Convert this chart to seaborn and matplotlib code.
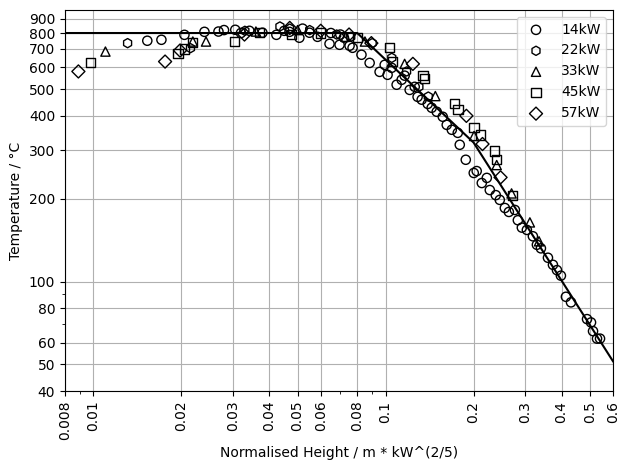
import numpy as np
import pandas as pd
import matplotlib
matplotlib.use("Agg")
import matplotlib.pyplot as plt
import seaborn as sns
from matplotlib.ticker import FixedLocator, FixedFormatter, NullFormatter

# ---------------- data ----------------
x14 = [0.0153, 0.0171, 0.0205, 0.0240, 0.0268, 0.0280, 0.0306, 0.0320, 0.0342, 0.0379,
       0.0423, 0.0450, 0.0469, 0.0507, 0.0520, 0.0549, 0.0585, 0.0643, 0.0650, 0.0696,
       0.0700, 0.0720, 0.0753, 0.0771, 0.0827, 0.0882, 0.0954, 0.0993, 0.1016, 0.1049,
       0.1091, 0.1135, 0.1162, 0.1209, 0.1258, 0.1287, 0.1329, 0.1394, 0.1438, 0.1496,
       0.1569, 0.1619, 0.1685, 0.1766, 0.1794, 0.1881, 0.2003, 0.2050, 0.2134, 0.2220,
       0.2273, 0.2383, 0.2459, 0.2559, 0.2641, 0.2770, 0.2835, 0.2926, 0.3044, 0.3192,
       0.3294, 0.3400, 0.3594, 0.3738, 0.3858, 0.3980, 0.4140, 0.4310, 0.4890, 0.5046,
       0.5126, 0.5290, 0.5417]
y14 = [750, 756, 788, 808, 810, 820, 822, 800, 815, 802,
       788, 815, 808, 769, 830, 802, 775, 731, 800, 725,
       790, 770, 719, 707, 667, 623, 578, 613, 564, 598,
       519, 541, 560, 497, 510, 469, 458, 442, 428, 414,
       397, 371, 356, 347, 314, 277, 248, 252, 228, 238,
       215, 206, 198, 185, 179, 182, 167, 157, 154, 146,
       136, 132, 122, 115, 110, 105, 88, 84, 73, 71,
       66, 62, 62]

x22 = [0.0131, 0.0215, 0.0330, 0.0435, 0.0470, 0.0550, 0.0680, 0.0760, 0.0900, 0.1050,
       0.1180, 0.1300, 0.1400]
y22 = [735, 705, 815, 845, 830, 820, 790, 775, 735, 650,
       580, 510, 470]

x33 = [0.0110, 0.0219, 0.0243, 0.0360, 0.0500, 0.0730, 0.0850, 0.1162, 0.1480, 0.2008,
       0.2400, 0.2698, 0.3117, 0.3350]
y33 = [685, 745, 745, 810, 820, 775, 745, 618, 472, 338,
       265, 209, 164, 140]

x45 = [0.00975, 0.0195, 0.0205, 0.0219, 0.0304, 0.0370, 0.0477, 0.0600, 0.0800, 0.1032,
       0.1054, 0.1343, 0.1355, 0.1726, 0.1770, 0.2008, 0.2113, 0.2365, 0.2397, 0.2720]
y45 = [627, 672, 700, 741, 745, 805, 788, 800, 770, 711,
       630, 559, 548, 445, 421, 364, 341, 298, 278, 205]

x57 = [0.00889, 0.0176, 0.0198, 0.0329, 0.0470, 0.0600, 0.0750, 0.0894, 0.1240, 0.1890,
       0.2146, 0.2474]
y57 = [580, 630, 691, 790, 835, 815, 790, 735, 618, 400,
       316, 239]

# correlation line
line_x = [0.008, 0.08, 0.2, 0.6]
line_y = [800, 800, 320, 51.3]

series_labels = ["14kW", "22kW", "33kW", "45kW", "57kW"]
series_markers = ["o", "h", "^", "s", "D"]

xticks = [0.008, 0.01, 0.02, 0.03, 0.04, 0.05, 0.06, 0.08, 0.1, 0.2, 0.3, 0.4, 0.5, 0.6]
yticks = [40, 50, 60, 80, 100, 200, 300, 400, 500, 600, 700, 800, 900]

# ---------------- plot ----------------
fig = plt.figure(figsize=(6.29, 4.70), dpi=100)
ax = fig.add_axes([65 / 629, 1 - 391 / 470, (613 - 65) / 629, (391 - 10) / 470])

sns.lineplot(x=line_x, y=line_y, ax=ax, color="black", linewidth=1.5, zorder=3)

xs = [x14, x22, x33, x45, x57]
ys = [y14, y22, y33, y45, y57]
for xv, yv, lab, mk in zip(xs, ys, series_labels, series_markers):
    df = pd.DataFrame({"x": xv, "y": yv})
    sns.scatterplot(data=df, x="x", y="y", ax=ax, marker=mk, s=44,
                    facecolor="none", edgecolor="black", linewidth=1.0,
                    label=lab, zorder=4)

ax.set_xscale("log")
ax.set_yscale("log")
ax.set_xlim(0.008, 0.6)
ax.set_ylim(40, 970)

ax.xaxis.set_major_locator(FixedLocator(xticks))
ax.xaxis.set_major_formatter(FixedFormatter([f"{v:g}" for v in xticks]))
ax.xaxis.set_minor_formatter(NullFormatter())
ax.yaxis.set_major_locator(FixedLocator(yticks))
ax.yaxis.set_major_formatter(FixedFormatter([f"{v:g}" for v in yticks]))
ax.yaxis.set_minor_formatter(NullFormatter())
plt.setp(ax.get_xticklabels(), rotation=90)

ax.grid(True, which="major", color="#b0b0b0", linewidth=0.8)
ax.set_axisbelow(True)

ax.set_xlabel("Normalised Height / m * kW^(2/5)")
ax.set_ylabel("Temperature / °C")

ax.legend(loc="upper right")

fig.savefig("out.png", dpi=100)
